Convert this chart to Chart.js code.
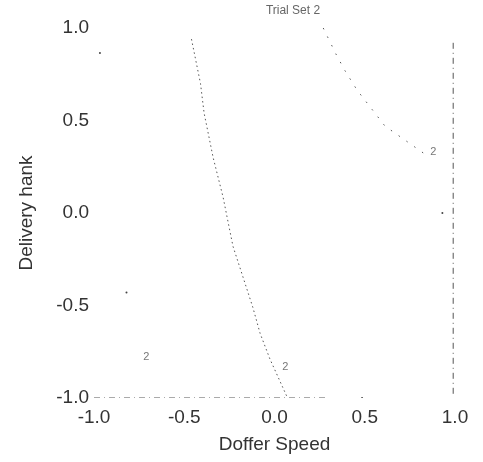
<!DOCTYPE html>
<html>
<head>
<meta charset="utf-8">
<script src="https://cdn.jsdelivr.net/npm/chart.js@4/dist/chart.umd.min.js"></script>
<style>
  html, body { margin: 0; padding: 0; background: #fff; }
  #wrap { width: 483px; height: 462px; }
</style>
</head>
<body>
<div id="wrap"><canvas id="chart"></canvas></div>
<script>
// contour-ish curves
const curveAX = [-0.46, -0.41, -0.39, -0.34, -0.285, -0.23, -0.12, -0.08, -0.025, 0.07];
const curveAY = [0.94, 0.70, 0.54, 0.30, 0.086, -0.18, -0.51, -0.65, -0.79, -0.995];
const curveBX = [0.27, 0.34, 0.39, 0.457, 0.612, 0.86];
const curveBY = [1.0, 0.86, 0.77, 0.665, 0.47, 0.30];
const edgeRightX = [0.99, 0.99];
const edgeRightY = [0.92, -0.99];
const edgeBottomX = [-1.0, 0.3];
const edgeBottomY = [-1.0, -1.0];
const strayX = [-0.967, -0.82, 0.485, 0.93];
const strayY = [0.865, -0.43, -1.0, 0.0];
const labelX = [0.88, -0.71, 0.06];
const labelY = [0.33, -0.78, -0.83];
const labelText = ["2", "2", "2"];
const tickValues = [-1.0, -0.5, 0.0, 0.5, 1.0];

const pts = (xs, ys) => xs.map((x, i) => ({ x: x, y: ys[i] }));

const lineStyle = {
  showLine: true,
  pointRadius: 0,
  borderColor: "#555",
  borderWidth: 1,
  fill: false,
};

const contourLabels = {
  id: "contourLabels",
  afterDatasetsDraw(chart) {
    const ctx = chart.ctx;
    const xs = chart.scales.x, ys = chart.scales.y;
    ctx.save();
    ctx.fillStyle = "#777";
    ctx.font = "11px 'Liberation Sans', Arial, sans-serif";
    ctx.textAlign = "center";
    ctx.textBaseline = "middle";
    labelText.forEach((t, i) => {
      ctx.fillText(t, xs.getPixelForValue(labelX[i]), ys.getPixelForValue(labelY[i]));
    });
    // title
    ctx.fillStyle = "#666";
    ctx.font = "12px 'Liberation Sans', Arial, sans-serif";
    ctx.fillText("Trial Set 2", 293, 11);
    ctx.restore();
  },
};

const axisFont = { family: "'Liberation Sans', Arial, sans-serif", size: 19 };

new Chart(document.getElementById("chart"), {
  type: "scatter",
  data: {
    datasets: [
      Object.assign({ data: pts(curveAX, curveAY), borderDash: [1.5, 3] }, lineStyle),
      Object.assign({ data: pts(curveBX, curveBY), borderDash: [1.5, 8] }, lineStyle),
      Object.assign({ data: pts(edgeRightX, edgeRightY), borderDash: [6, 4, 1, 4] }, lineStyle),
      Object.assign({ data: pts(edgeBottomX, edgeBottomY), borderDash: [6, 4, 1, 4] }, lineStyle),
      {
        data: pts(strayX, strayY),
        pointRadius: 1,
        pointBackgroundColor: "#444",
        pointBorderWidth: 0,
        showLine: false,
      },
    ],
  },
  options: {
    responsive: true,
    maintainAspectRatio: false,
    animation: false,
    layout: { padding: { top: 28, right: 28, left: 0, bottom: 0 } },
    plugins: { legend: { display: false }, tooltip: { enabled: false } },
    scales: {
      x: {
        type: "linear",
        min: -1,
        max: 1,
        afterBuildTicks: (s) => { s.ticks = tickValues.map((v) => ({ value: v })); },
        afterFit: (s) => { s.height = 64; },
        grid: { display: false, drawTicks: false },
        border: { display: false },
        ticks: { color: "#333", font: axisFont, padding: 8, callback: (v) => Number(v).toFixed(1) },
        title: { display: true, text: "Doffer Speed", color: "#333", font: axisFont, padding: { top: 0, bottom: 6 } },
      },
      y: {
        type: "linear",
        min: -1,
        max: 1,
        afterBuildTicks: (s) => { s.ticks = tickValues.map((v) => ({ value: v })); },
        afterFit: (s) => { s.width = 94; },
        grid: { display: false, drawTicks: false },
        border: { display: false },
        ticks: { color: "#333", font: axisFont, padding: 5, callback: (v) => Number(v).toFixed(1) },
        title: { display: true, text: "Delivery hank", color: "#333", font: axisFont, padding: { top: 15, bottom: 0 } },
      },
    },
  },
  plugins: [contourLabels],
});
</script>
</body>
</html>
